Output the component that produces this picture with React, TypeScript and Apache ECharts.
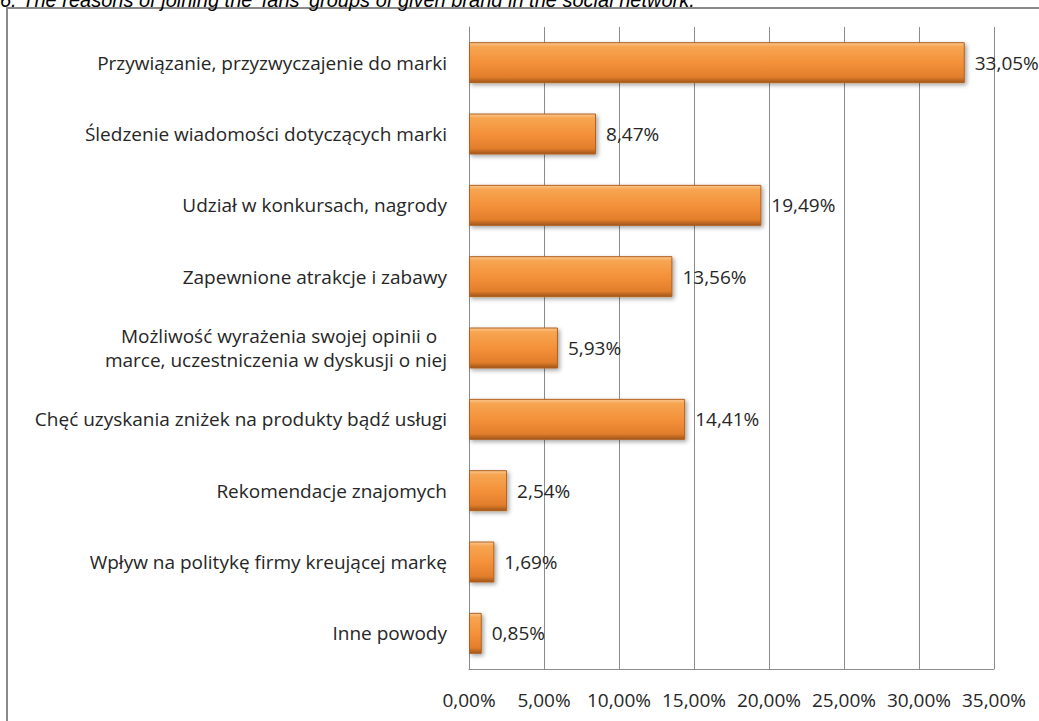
import React, { useEffect, useRef } from "react";
import * as echarts from "echarts";

const titleText =
  "6. The reasons of joining the 'fans' groups of given brand in the social network.";

const categories = [
  "Przywiązanie, przyzwyczajenie do marki",
  "Śledzenie wiadomości dotyczących marki",
  "Udział w konkursach, nagrody",
  "Zapewnione atrakcje i zabawy",
  "Możliwość wyrażenia swojej opinii o\u00a0\u00a0\nmarce, uczestniczenia w dyskusji o niej",
  "Chęć uzyskania zniżek na produkty bądź usługi",
  "Rekomendacje znajomych",
  "Wpływ na politykę firmy kreującej markę",
  "Inne powody",
];

const values = [33.05, 8.47, 19.49, 13.56, 5.93, 14.41, 2.54, 1.69, 0.85];

const fmt = (v: number) => v.toFixed(2).replace(".", ",") + "%";

export default function App() {
  const ref = useRef<HTMLDivElement>(null);
  useEffect(() => {
    if (!ref.current) return;
    const chart = echarts.init(ref.current, null, { renderer: "svg" });
    const font = "Open Sans";
    chart.setOption({
      animation: false,
      backgroundColor: "#ffffff",
      graphic: [
        {
          type: "rect",
          shape: { x: 7, y: 8, width: 1200, height: 900 },
          style: { fill: "none", stroke: "#8a8a8a", lineWidth: 2 },
          z: 0,
        },
        {
          type: "text",
          x: 0,
          y: 10,
          style: {
            text: titleText,
            fontSize: 20,
            fontStyle: "italic",
            fontFamily: "Liberation Sans",
            fill: "#000000",
            verticalAlign: "bottom",
            lineHeight: 20,
          },
        },
      ],
      grid: { left: 469, right: 45, top: 27, bottom: 52, containLabel: false },
      xAxis: {
        type: "value",
        min: 0,
        max: 35,
        interval: 5,
        axisLine: { show: true, lineStyle: { color: "#8c8c8c", width: 1 } },
        axisTick: { show: false },
        splitLine: { show: true, lineStyle: { color: "#8c8c8c", width: 1 } },
        axisLabel: {
          formatter: (v: number) => fmt(v),
          color: "#262626",
          fontFamily: font,
          fontSize: 19,
          margin: 21,
        },
      },
      yAxis: {
        type: "category",
        data: categories,
        inverse: true,
        axisLine: { show: true, lineStyle: { color: "#8c8c8c", width: 1 } },
        axisTick: { show: false },
        axisLabel: {
          color: "#262626",
          fontFamily: font,
          fontSize: 19,
          margin: 22,
          lineHeight: 24,
          align: "right",
        },
      },
      series: [
        {
          type: "bar",
          data: values,
          barWidth: 41,
          itemStyle: {
            color: new echarts.graphic.LinearGradient(0, 0, 0, 1, [
              { offset: 0, color: "#FAC890" },
              { offset: 0.1, color: "#F7A552" },
              { offset: 0.5, color: "#F4913A" },
              { offset: 0.86, color: "#E27E2B" },
              { offset: 1, color: "#A0551A" },
            ]),
            borderColor: "#B0601E",
            borderWidth: 1,
            shadowColor: "rgba(0,0,0,0.35)",
            shadowBlur: 4,
            shadowOffsetX: 2,
            shadowOffsetY: 2,
          },
          label: {
            show: true,
            position: "right",
            distance: 10,
            formatter: (p: any) => fmt(p.value),
            color: "#262626",
            fontFamily: font,
            fontSize: 19,
          },
        },
      ],
    });
    return () => chart.dispose();
  }, []);
  return (
    <div
      ref={ref}
      style={{ position: "absolute", left: 0, top: 0, width: 1039, height: 721 }}
    />
  );
}
